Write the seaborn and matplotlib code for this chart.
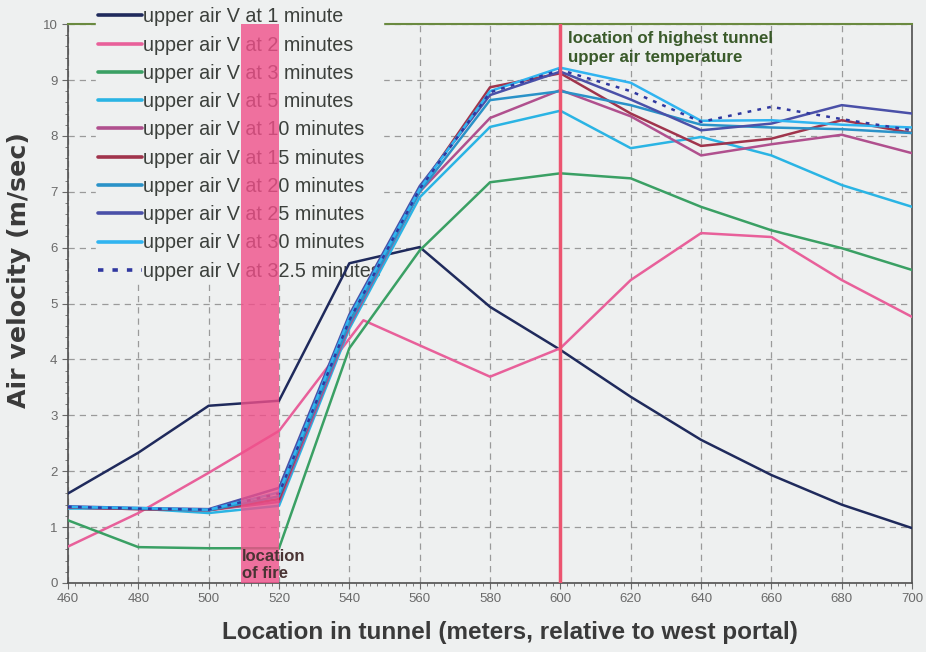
import numpy as np
import pandas as pd
import matplotlib
matplotlib.use("Agg")
import matplotlib.pyplot as plt
import seaborn as sns

# data
loc_x = [460, 480, 500, 520, 540, 560, 580, 600, 620, 640, 660, 680, 700]
loc_x_2min = [460, 480, 500, 520, 544, 580, 600, 620, 640, 660, 680, 700]

v_1min = [1.6, 2.33, 3.17, 3.26, 5.72, 6.01, 4.94, 4.17, 3.33, 2.56, 1.93, 1.40, 0.98]
v_2min = [0.65, 1.25, 1.97, 2.72, 4.7, 3.69, 4.2, 5.42, 6.26, 6.19, 5.42, 4.76]
v_3min = [1.12, 0.64, 0.62, 0.62, 4.2, 5.95, 7.17, 7.33, 7.24, 6.73, 6.31, 5.99, 5.6]
v_5min = [1.33, 1.33, 1.25, 1.38, 4.55, 6.9, 8.16, 8.45, 7.78, 7.98, 7.65, 7.12, 6.73]
v_10min = [1.35, 1.32, 1.30, 1.45, 4.6, 7.0, 8.32, 8.82, 8.35, 7.65, 7.85, 8.02, 7.69]
v_15min = [1.35, 1.32, 1.30, 1.50, 4.7, 7.05, 8.87, 9.12, 8.4, 7.82, 7.95, 8.28, 8.05]
v_20min = [1.36, 1.33, 1.30, 1.55, 4.65, 7.0, 8.64, 8.8, 8.55, 8.2, 8.15, 8.12, 8.05]
v_25min = [1.37, 1.34, 1.32, 1.70, 4.8, 7.1, 8.73, 9.15, 8.65, 8.1, 8.22, 8.55, 8.4]
v_30min = [1.36, 1.34, 1.31, 1.62, 4.75, 7.05, 8.8, 9.22, 8.95, 8.27, 8.28, 8.2, 8.15]
v_32min = [1.36, 1.33, 1.31, 1.60, 4.7, 7.05, 8.78, 9.18, 8.8, 8.25, 8.52, 8.3, 8.1]

labels = ["upper air V at 1 minute", "upper air V at 2 minutes", "upper air V at 3 minutes",
          "upper air V at 5 minutes", "upper air V at 10 minutes", "upper air V at 15 minutes",
          "upper air V at 20 minutes", "upper air V at 25 minutes", "upper air V at 30 minutes",
          "upper air V at 32.5 minutes"]
xs = [loc_x, loc_x_2min] + [loc_x] * 8
ys = [v_1min, v_2min, v_3min, v_5min, v_10min, v_15min, v_20min, v_25min, v_30min, v_32min]
colors = ["#1f2a5c", "#e8609a", "#3aa064", "#2ab4e4", "#b0508e", "#a0344c",
          "#2a92c8", "#4a50a8", "#30b4f0", "#3038a0"]

rows = []
for lab, x, y in zip(labels, xs, ys):
    for a, b in zip(x, y):
        rows.append({"loc": a, "v": b, "series": lab})
df = pd.DataFrame(rows)

bg = "#eef0f0"
sns.set_style("white")
plt.rcParams["font.family"] = ["Liberation Sans", "DejaVu Sans"]

fig, ax = plt.subplots(figsize=(9.26, 6.52), dpi=100)
fig.patch.set_facecolor(bg)
ax.set_facecolor(bg)
fig.subplots_adjust(left=0.0734, right=0.985, top=0.963, bottom=0.106)

for lab, col in zip(labels, colors):
    d = df[df["series"] == lab]
    ls = (0, (1.5, 2.5)) if "32.5" in lab else "-"
    sns.lineplot(data=d, x="loc", y="v", ax=ax, color=col, lw=1.8, linestyle=ls,
                 label=lab, sort=False, zorder=3)

ax.axvline(600, color="#ec5470", lw=2.5, zorder=4)

ax.set_xlim(460, 700)
ax.set_ylim(0, 10)
ax.set_xticks(np.arange(460, 701, 20))
ax.set_yticks(np.arange(0, 11, 1))
ax.set_xticks(np.arange(460, 701, 2), minor=True)
ax.set_yticks(np.arange(0, 10.01, 0.2), minor=True)
ax.grid(True, which="major", ls=(0, (5, 4)), color="#9a9a9a", lw=0.9)
ax.tick_params(axis="both", which="major", labelsize=9.5, colors="#6a6a6a", length=4,
               direction="out", left=True, bottom=True)
ax.tick_params(axis="both", which="minor", length=2, color="#6a6a6a", left=True, bottom=True)
for lab in ax.get_xticklabels() + ax.get_yticklabels():
    lab.set_color("#6a6a6a")

for s in ["left", "bottom", "right"]:
    ax.spines[s].set_color("#505050")
    ax.spines[s].set_linewidth(1.2)
ax.spines["top"].set_color("#6a8a40")
ax.spines["top"].set_linewidth(1.5)

ax.set_xlabel("Location in tunnel (meters, relative to west portal)", fontsize=17.5,
              fontweight="bold", color="#3a3a3a")
ax.set_ylabel("Air velocity (m/sec)", fontsize=18.2, fontweight="bold", color="#3a3a3a",
              family=["DejaVu Sans"])
ax.xaxis.set_label_coords(0.524, -0.068)
ax.yaxis.set_label_coords(-0.044, 0.56)

leg = ax.legend(loc="upper left", bbox_to_anchor=(0.0334, 1.0336), fontsize=14.2,
                frameon=True, facecolor=bg, edgecolor=bg, framealpha=1,
                handlelength=2.2, handletextpad=0.1, labelspacing=0.47, borderpad=0.1,
                borderaxespad=0)
leg.set_zorder(2.7)  # above spines/grid, below the data lines
for t in leg.get_texts():
    t.set_color("#3c403c")
for h in leg.get_lines():
    h.set_linewidth(2.6)

# fire zone, drawn over the legend like in the original
ax.axvspan(509.3, 520, ymin=0, ymax=1, color="#f0508a", alpha=0.8, lw=0, zorder=6)

ax.text(509.5, 0.47, "location", fontsize=12, fontweight="bold", color="#4a3434",
        ha="left", va="center", zorder=7)
ax.text(509.5, 0.17, "of fire", fontsize=12, fontweight="bold", color="#4a3434",
        ha="left", va="center", zorder=7)
ax.text(602.2, 9.75, "location of highest tunnel", fontsize=12.2, fontweight="bold",
        color="#3a5a2a", ha="left", va="center", zorder=7)
ax.text(602.2, 9.4, "upper air temperature", fontsize=12.2, fontweight="bold",
        color="#3a5a2a", ha="left", va="center", zorder=7)

plt.savefig("out.png", dpi=100, facecolor=bg)
